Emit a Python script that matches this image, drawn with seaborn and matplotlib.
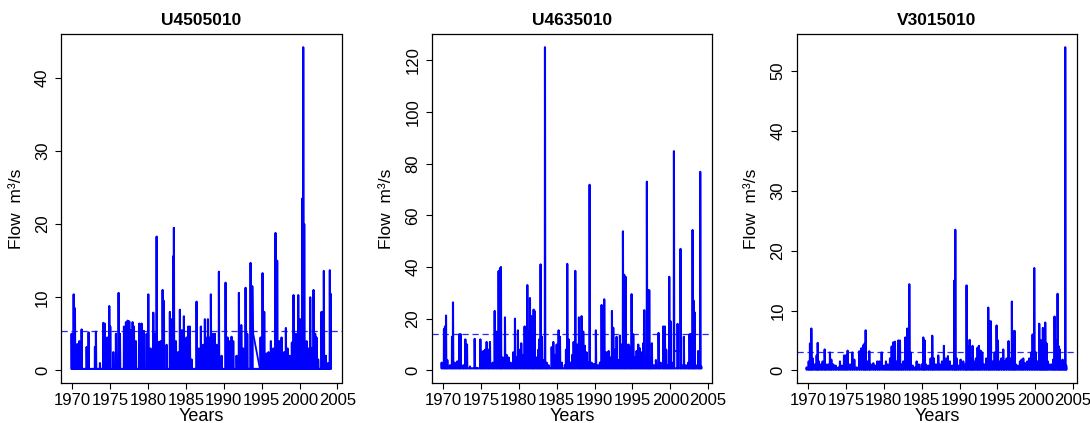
import matplotlib
matplotlib.use("Agg")
import matplotlib.pyplot as plt
import pandas as pd
import seaborn as sns

stations = ["U4505010", "U4635010", "V3015010"]

# Daily flood peaks (decimal year, flow m3/s) for each gauging station
u4505_peaks = [
    (1969.91, 5.0), (1970.18, 10.4), (1970.35, 8.5), (1970.66, 3.6), (1970.92, 4.0),
    (1971.23, 5.6), (1971.89, 3.2), (1972.15, 5.2), (1972.99, 3.2), (1973.12, 5.3),
    (1973.65, 1.0), (1974.09, 6.5), (1974.27, 6.4), (1974.62, 4.5), (1974.88, 8.8),
    (1975.01, 6.0), (1975.41, 2.5), (1975.76, 5.0), (1976.11, 10.6), (1976.29, 5.0),
    (1976.82, 6.0), (1977.08, 6.6), (1977.30, 6.8), (1977.52, 6.7), (1977.74, 5.5),
    (1977.96, 6.6), (1978.14, 6.0), (1978.40, 4.0), (1978.84, 6.4), (1979.15, 6.4),
    (1979.45, 5.4), (1979.81, 5.0), (1980.03, 10.4), (1980.33, 3.0), (1980.69, 7.9),
    (1980.91, 5.0), (1981.13, 18.3), (1981.35, 3.9), (1981.65, 4.0), (1981.92, 11.0),
    (1982.09, 9.5), (1982.45, 3.5), (1982.88, 8.0), (1983.10, 7.0), (1983.32, 15.6),
    (1983.41, 19.5), (1983.68, 4.0), (1983.98, 2.5), (1984.20, 8.3), (1984.47, 5.5),
    (1984.73, 7.4), (1985.08, 4.5), (1985.30, 6.0), (1985.52, 6.0), (1985.74, 1.5),
    (1986.40, 9.4), (1986.71, 3.0), (1986.97, 6.0), (1987.28, 3.5), (1987.50, 7.0),
    (1987.63, 4.5), (1987.90, 7.0), (1988.16, 4.5), (1988.29, 10.4), (1988.60, 5.0),
    (1988.82, 5.0), (1989.04, 3.5), (1989.35, 13.5), (1989.70, 2.0), (1990.23, 12.0),
    (1990.49, 4.5), (1990.80, 4.0), (1991.02, 4.6), (1991.24, 4.0), (1991.68, 2.0),
    (1991.99, 10.6), (1992.30, 6.2), (1992.56, 3.0), (1992.87, 11.3), (1993.09, 5.0),
    (1993.53, 14.7), (1993.75, 11.5), (1994.85, 4.5), (1995.11, 13.3),
    (1995.33, 8.0), (1995.64, 2.3), (1995.90, 2.5), (1996.21, 4.0), (1996.52, 3.0),
    (1996.82, 18.8), (1997.04, 15.0), (1997.31, 4.0), (1997.62, 4.5), (1997.97, 2.5),
    (1998.19, 5.8), (1998.41, 3.0), (1998.72, 2.0), (1998.98, 3.8), (1999.20, 10.3),
    (1999.51, 5.0), (1999.82, 10.3), (2000.04, 7.0), (2000.26, 7.0), (2000.35, 23.5),
    (2000.48, 44.2), (2000.61, 20.0), (2000.92, 4.0), (2001.14, 3.0), (2001.40, 10.0),
    (2001.62, 3.0), (2001.84, 11.0), (2002.06, 5.0), (2002.23, 4.5), (2002.45, 1.5),
    (2002.89, 8.0), (2003.07, 8.0), (2003.20, 13.6), (2003.47, 2.0), (2003.77, 1.0),
    (2003.99, 13.7), (2004.08, 10.5),
]

u4635_peaks = [
    (1969.82, 3.0), (1970.13, 16.0), (1970.26, 17.0), (1970.40, 21.2), (1970.57, 4.0),
    (1970.92, 2.0), (1971.19, 13.0), (1971.32, 26.3), (1971.54, 3.0), (1971.89, 3.5),
    (1972.15, 14.0), (1972.33, 14.0), (1972.68, 2.0), (1972.95, 12.0), (1973.17, 10.0),
    (1973.56, 1.5), (1974.18, 12.2), (1974.44, 1.0), (1974.93, 12.0), (1975.15, 7.0),
    (1975.32, 7.5), (1975.54, 8.0), (1975.76, 11.0), (1975.98, 8.0), (1976.20, 11.0),
    (1976.55, 3.0), (1976.82, 23.0), (1977.08, 15.0), (1977.34, 38.4), (1977.52, 39.5),
    (1977.65, 40.0), (1977.87, 5.0), (1978.18, 20.5), (1978.40, 6.0), (1978.66, 5.0),
    (1978.93, 3.0), (1979.28, 7.0), (1979.50, 20.0), (1979.72, 5.0), (1979.89, 15.5),
    (1980.16, 8.0), (1980.33, 10.5), (1980.60, 6.0), (1980.77, 17.0), (1980.95, 12.0),
    (1981.13, 33.0), (1981.30, 15.0), (1981.48, 28.0), (1981.65, 21.0), (1981.83, 10.0),
    (1981.96, 23.5), (1982.09, 23.0), (1982.36, 5.0), (1982.58, 8.0), (1982.71, 12.0),
    (1982.88, 41.0), (1983.06, 13.0), (1983.28, 4.0), (1983.46, 125.0), (1983.68, 3.0),
    (1983.94, 2.0), (1984.34, 9.0), (1984.56, 11.0), (1984.78, 6.0), (1985.00, 10.0),
    (1985.26, 15.5), (1985.44, 13.0), (1985.70, 3.0), (1986.09, 2.0), (1986.23, 8.0),
    (1986.40, 41.2), (1986.58, 12.0), (1986.84, 3.0), (1987.06, 6.0), (1987.24, 11.0),
    (1987.46, 38.5), (1987.72, 10.0), (1987.94, 20.5), (1988.16, 8.0), (1988.29, 21.0),
    (1988.51, 15.0), (1988.73, 9.5), (1988.95, 7.0), (1989.17, 3.0), (1989.35, 71.8),
    (1989.61, 3.0), (1989.92, 2.5), (1990.18, 15.5), (1990.45, 2.0), (1990.71, 3.0),
    (1990.93, 25.3), (1991.11, 8.0), (1991.28, 27.5), (1991.46, 7.0), (1991.68, 7.0),
    (1991.86, 7.5), (1992.12, 5.0), (1992.30, 23.0), (1992.47, 16.5), (1992.69, 8.0),
    (1992.91, 13.0), (1993.13, 4.0), (1993.35, 13.5), (1993.57, 10.0), (1993.75, 53.8),
    (1993.92, 37.0), (1994.10, 36.2), (1994.23, 10.0), (1994.49, 10.0), (1994.67, 9.0),
    (1994.89, 29.5), (1995.11, 14.0), (1995.33, 5.0), (1995.55, 7.5), (1995.77, 10.0),
    (1995.99, 8.5), (1996.21, 7.0), (1996.43, 10.5), (1996.56, 23.3), (1996.78, 5.0),
    (1996.91, 73.0), (1997.09, 31.0), (1997.22, 31.0), (1997.40, 5.0), (1997.57, 10.5),
    (1997.84, 2.0), (1998.10, 4.0), (1998.45, 14.5), (1998.72, 3.0), (1999.07, 17.0),
    (1999.29, 17.0), (1999.46, 8.0), (1999.68, 2.0), (1999.86, 36.2), (2000.04, 19.0),
    (2000.21, 3.0), (2000.48, 84.8), (2000.96, 18.0), (2001.35, 47.0), (2001.53, 2.0),
    (2001.79, 13.0), (2002.06, 2.0), (2002.37, 3.0), (2002.54, 14.0), (2002.72, 14.0),
    (2002.94, 54.3), (2003.07, 27.0), (2003.20, 22.5), (2003.38, 2.0), (2003.68, 7.5),
    (2003.82, 1.0), (2003.95, 76.8), (2004.08, 1.5),
]

v3015_peaks = [
    (1969.82, 0.5), (1970.09, 1.5), (1970.26, 4.5), (1970.44, 7.0), (1970.62, 2.0),
    (1970.92, 1.0), (1971.14, 2.5), (1971.28, 4.6), (1971.45, 1.5), (1971.72, 1.0),
    (1971.93, 1.5), (1972.20, 3.5), (1972.37, 1.0), (1972.68, 1.0), (1972.90, 3.0),
    (1973.08, 1.8), (1973.34, 1.0), (1973.65, 0.8), (1974.00, 0.5), (1974.22, 1.5),
    (1974.49, 0.8), (1974.75, 2.5), (1974.97, 2.5), (1975.23, 3.3), (1975.54, 1.0),
    (1975.85, 3.0), (1976.11, 1.8), (1976.42, 0.5), (1976.77, 3.2), (1977.04, 3.7),
    (1977.30, 4.2), (1977.48, 4.5), (1977.61, 6.7), (1977.83, 1.5), (1978.09, 3.2),
    (1978.27, 1.0), (1978.62, 1.2), (1978.88, 0.8), (1979.15, 1.5), (1979.41, 1.5),
    (1979.72, 3.0), (1980.03, 0.8), (1980.29, 1.5), (1980.55, 1.0), (1980.82, 2.0),
    (1981.04, 4.0), (1981.26, 4.7), (1981.48, 4.8), (1981.70, 1.5), (1981.92, 5.0),
    (1982.14, 5.0), (1982.36, 1.0), (1982.58, 1.5), (1982.84, 5.5), (1983.10, 7.0),
    (1983.37, 14.4), (1983.54, 3.0), (1983.81, 0.8), (1984.12, 0.5), (1984.34, 1.5),
    (1984.64, 1.0), (1985.00, 1.0), (1985.22, 5.5), (1985.39, 5.0), (1985.57, 1.0),
    (1985.88, 0.8), (1986.18, 2.0), (1986.40, 5.8), (1986.62, 2.0), (1986.89, 1.0),
    (1987.19, 2.5), (1987.41, 1.0), (1987.68, 1.5), (1987.94, 4.1), (1988.21, 2.0),
    (1988.47, 2.4), (1988.73, 1.5), (1989.04, 0.8), (1989.31, 15.0), (1989.44, 23.5),
    (1989.61, 2.0), (1989.88, 0.8), (1990.14, 1.8), (1990.49, 1.5), (1990.76, 1.0),
    (1990.93, 14.2), (1991.11, 4.0), (1991.33, 5.1), (1991.55, 2.0), (1991.72, 4.1),
    (1991.90, 1.5), (1992.16, 2.0), (1992.38, 3.8), (1992.56, 4.1), (1992.78, 3.3),
    (1993.00, 3.0), (1993.26, 1.0), (1993.53, 2.0), (1993.79, 10.5), (1993.97, 8.2),
    (1994.14, 8.2), (1994.36, 1.5), (1994.63, 3.0), (1994.89, 7.5), (1995.07, 5.0),
    (1995.24, 1.5), (1995.51, 2.0), (1995.77, 3.5), (1995.95, 1.5), (1996.21, 2.0),
    (1996.47, 4.9), (1996.69, 2.0), (1996.91, 11.5), (1997.09, 6.5), (1997.27, 6.6),
    (1997.44, 1.0), (1997.70, 0.8), (1997.97, 1.5), (1998.19, 1.8), (1998.41, 2.0),
    (1998.67, 1.2), (1998.94, 1.5), (1999.20, 2.0), (1999.46, 3.0), (1999.64, 6.0),
    (1999.86, 17.1), (2000.08, 3.0), (2000.26, 1.5), (2000.52, 7.8), (2000.69, 5.0),
    (2000.87, 5.0), (2001.00, 7.1), (2001.13, 3.0), (2001.31, 8.0), (2001.49, 4.5),
    (2001.66, 1.5), (2001.93, 1.0), (2002.19, 1.0), (2002.37, 1.8), (2002.54, 9.0),
    (2002.72, 5.0), (2002.94, 12.8), (2003.11, 4.0), (2003.24, 3.5), (2003.42, 0.5),
    (2003.60, 1.8), (2003.77, 1.5), (2003.95, 54.0), (2004.08, 0.8),
]

# Low flow reached between flood events (m3/s)
baseflow = [0.2, 0.8, 0.15]

# Stretches without daily records, bridged by a straight line
u4505_gap = [(1993.75, 11.5), (1993.88, 5.0), (1994.76, 0.2)]
u4635_gap = [(2000.65, 7.5), (2001.33, 7.5)]
v3015_gap = []

# Flow threshold marked by the dashed line (m3/s)
threshold = [5.35, 14.0, 3.0]

y_ticks = [[0, 10, 20, 30, 40], [0, 20, 40, 60, 80, 100, 120], [0, 10, 20, 30, 40, 50]]
x_ticks = [1970, 1975, 1980, 1985, 1990, 1995, 2000, 2005]


def hydrograph(peaks, base):
    """Daily series: each flood rises from the low flow, peaks and recedes."""
    years, flows = [], []
    for yr, q in peaks:
        years += [yr - 0.02, yr, yr + 0.04]
        flows += [base, q, base]
    return pd.DataFrame({"year": years, "flow": flows})


sns.set_style("white")
plt.rcParams["font.family"] = ["Liberation Sans", "DejaVu Sans"]
plt.rcParams.update({
    "text.color": "black",
    "axes.labelcolor": "black",
    "xtick.color": "black",
    "ytick.color": "black",
})

fig = plt.figure(figsize=(10.9, 4.23), dpi=100)
lefts = [61 / 1090, 431.7 / 1090, 796.7 / 1090]
width = 280.5 / 1090
bottom = 1 - 383.3 / 423
height = (383.3 - 34.3) / 423

all_peaks = [u4505_peaks, u4635_peaks, v3015_peaks]
all_gaps = [u4505_gap, u4635_gap, v3015_gap]

for i in range(3):
    ax = fig.add_axes([lefts[i], bottom, width, height])
    df = hydrograph(all_peaks[i], baseflow[i])
    sns.lineplot(data=df, x="year", y="flow", ax=ax, color="#0000FF",
                 linewidth=1.5, estimator=None, sort=False, legend=False)
    if all_gaps[i]:
        gap = pd.DataFrame(all_gaps[i], columns=["year", "flow"])
        sns.lineplot(data=gap, x="year", y="flow", ax=ax, color="#0000FF",
                     linewidth=1.3, estimator=None, sort=False, legend=False)
    ax.axhline(threshold[i], color="#0000FF", linewidth=0.9,
               linestyle=(0, (5, 3)), alpha=0.85)

    qmax = max(q for _, q in all_peaks[i])
    ax.set_ylim(-0.04 * qmax, 1.04 * qmax)
    ax.set_xlim(1968.51, 2005.53)
    ax.set_xticks(x_ticks)
    ax.set_yticks(y_ticks[i])
    ax.set_xticklabels([str(v) for v in x_ticks], fontsize=12)
    ax.set_yticklabels([str(v) for v in y_ticks[i]], fontsize=12,
                       rotation=90, va="center")
    ax.tick_params(axis="both", direction="out", length=4, width=0.8,
                   color="black", bottom=True, left=True)
    ax.tick_params(axis="x", pad=3)
    ax.tick_params(axis="y", pad=4)
    for side in ax.spines.values():
        side.set_visible(True)
        side.set_color("black")
        side.set_linewidth(0.9)
    ax.set_xlabel("Years", fontsize=13, labelpad=0)
    ax.set_ylabel("Flow  m³/s", fontsize=12.5, labelpad=8)
    ax.set_title(stations[i], fontsize=12.5, fontweight="bold", pad=7)

fig.savefig("out.png", dpi=100)
